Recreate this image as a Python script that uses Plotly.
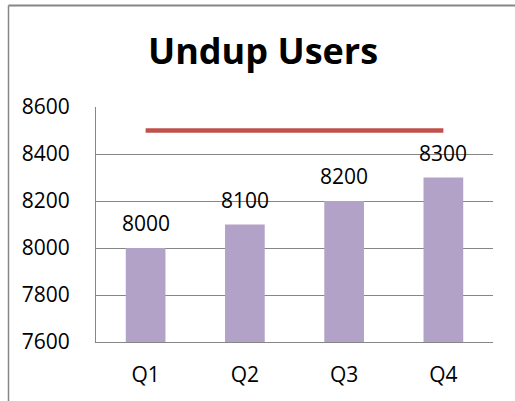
import plotly.graph_objects as go

categories = ["Q1", "Q2", "Q3", "Q4"]
users = [8000, 8100, 8200, 8300]
target = [8500, 8500, 8500, 8500]
y_ticks = [7600, 7800, 8000, 8200, 8400, 8600]

FONT = "Open Sans"
GRAY = "#868686"

fig = go.Figure()
fig.add_trace(go.Bar(
    x=categories, y=users, marker=dict(color="#B3A2C7", line=dict(width=0)),
    width=0.4, showlegend=False, hoverinfo="skip",
))
fig.add_trace(go.Scatter(
    x=categories, y=target, mode="lines",
    line=dict(color="#C0504D", width=4.5), showlegend=False, hoverinfo="skip",
))

for c, v in zip(categories, users):
    fig.add_annotation(x=c, y=v, text=str(v), showarrow=False, yanchor="middle",
                       yshift=25, font=dict(family=FONT, size=21, color="#000000"))

W, H = 515, 401
L, R, T, B = 96, 22, 107, 59

fig.update_layout(
    width=W, height=H,
    margin=dict(l=L, r=R, t=T, b=B, pad=0),
    paper_bgcolor="white", plot_bgcolor="white",
    font=dict(family=FONT, size=21, color="#000000"),
    title=dict(text="<b>Undup Users</b>", x=263 / W, xanchor="center", xref="container",
               y=1 - 51 / H, yanchor="middle", yref="container",
               font=dict(family=FONT, size=36, color="#000000")),
    bargap=0.6,
    xaxis=dict(showline=True, linecolor=GRAY, linewidth=1, showgrid=False,
               ticks="", ticklabelstandoff=14, tickfont=dict(family=FONT, size=21),
               fixedrange=True),
    yaxis=dict(range=[7600, 8600], tickvals=y_ticks, showgrid=True, gridcolor=GRAY,
               gridwidth=1, showline=True, linecolor=GRAY, linewidth=1, ticks="",
               ticklabelstandoff=21, zeroline=False, tickfont=dict(family=FONT, size=21),
               fixedrange=True),
    shapes=[
        dict(type="line", xref="paper", yref="paper",
             x0=(8.5 - L) / (W - L - R), x1=(W + 5 - L) / (W - L - R),
             y0=1 + (T - 5.5) / (H - T - B), y1=1 + (T - 5.5) / (H - T - B),
             line=dict(color=GRAY, width=2)),
        dict(type="line", xref="paper", yref="paper",
             x0=(8.5 - L) / (W - L - R), x1=(8.5 - L) / (W - L - R),
             y0=1 + (T - 5.5) / (H - T - B), y1=-(B + 5) / (H - T - B),
             line=dict(color=GRAY, width=1.5)),
    ],
)

fig.write_html("out.html", config={"displayModeBar": False},
               post_script="document.body.style.margin='0';document.body.style.overflow='hidden';")
